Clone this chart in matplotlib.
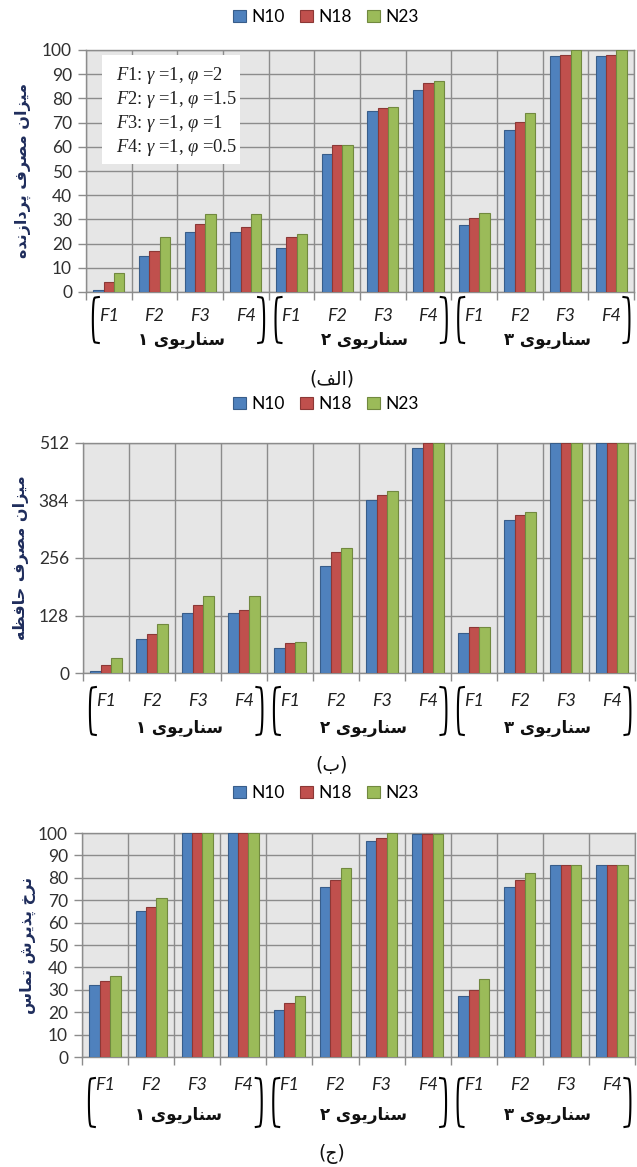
import matplotlib
matplotlib.use('Agg')
import matplotlib.pyplot as plt
import numpy as np
from matplotlib.patches import Patch
from matplotlib.transforms import IdentityTransform

W, H, DPI = 637, 1167, 100

# ---------------- data ----------------
scenarios = ['سناریوی ۱', 'سناریوی ۲', 'سناریوی ۳']
functions = ['F1', 'F2', 'F3', 'F4']
series_names = ['N10', 'N18', 'N23']

cpu_n10 = [1, 15, 25, 25, 18, 57, 75, 83.3, 27.6, 66.8, 97.4, 97.4]
cpu_n18 = [4, 17, 28, 26.7, 22.9, 60.7, 76, 86.3, 30.6, 70.2, 98, 98]
cpu_n23 = [7.7, 22.6, 32.2, 32.2, 24.1, 60.7, 76.4, 87, 32.8, 73.9, 100, 100]

mem_n10 = [4.5, 75, 133, 133, 56, 238, 385, 501, 90, 341, 512, 512]
mem_n18 = [17, 87.5, 151.5, 141, 67.5, 268.5, 396, 512, 101.5, 351, 512, 512]
mem_n23 = [33.5, 110, 172, 172, 69.5, 279, 406, 512, 103, 359, 512, 512]

acc_n10 = [32.3, 65, 100, 100, 21.1, 76, 96.3, 99.6, 27.1, 76, 85.6, 85.6]
acc_n18 = [33.9, 67, 100, 100, 24.1, 79, 97.9, 99.6, 30.1, 79, 85.6, 85.6]
acc_n23 = [36.2, 71, 100, 100, 27.1, 84.2, 100, 99.6, 34.7, 82.1, 85.6, 85.6]

ylabels = ['میزان مصرف پردازنده', 'میزان مصرف حافظه', 'نرخ پذیرش تماس']
captions = ['(الف)', '(ب)', '(ج)']
formula_lines = [('F1', '2'), ('F2', '1.5'), ('F3', '1'), ('F4', '0.5')]

# ---------------- simple Arabic/Persian shaping ----------------
FORMS = {
    'ا': (0xFE8D, 0xFE8E, None, None),
    'ب': (0xFE8F, 0xFE90, 0xFE91, 0xFE92),
    'پ': (0xFB56, 0xFB57, 0xFB58, 0xFB59),
    'ت': (0xFE95, 0xFE96, 0xFE97, 0xFE98),
    'ج': (0xFE9D, 0xFE9E, 0xFE9F, 0xFEA0),
    'ح': (0xFEA1, 0xFEA2, 0xFEA3, 0xFEA4),
    'خ': (0xFEA5, 0xFEA6, 0xFEA7, 0xFEA8),
    'د': (0xFEA9, 0xFEAA, None, None),
    'ذ': (0xFEAB, 0xFEAC, None, None),
    'ر': (0xFEAD, 0xFEAE, None, None),
    'ز': (0xFEAF, 0xFEB0, None, None),
    'س': (0xFEB1, 0xFEB2, 0xFEB3, 0xFEB4),
    'ش': (0xFEB5, 0xFEB6, 0xFEB7, 0xFEB8),
    'ص': (0xFEB9, 0xFEBA, 0xFEBB, 0xFEBC),
    'ظ': (0xFEC5, 0xFEC6, 0xFEC7, 0xFEC8),
    'ف': (0xFED1, 0xFED2, 0xFED3, 0xFED4),
    'ل': (0xFEDD, 0xFEDE, 0xFEDF, 0xFEE0),
    'م': (0xFEE1, 0xFEE2, 0xFEE3, 0xFEE4),
    'ن': (0xFEE5, 0xFEE6, 0xFEE7, 0xFEE8),
    'ه': (0xFEE9, 0xFEEA, 0xFEEB, 0xFEEC),
    'و': (0xFEED, 0xFEEE, None, None),
    'ی': (0xFBFC, 0xFBFD, 0xFBFE, 0xFBFF),
}


def shape(text):
    out = []
    n = len(text)
    for i, c in enumerate(text):
        if c not in FORMS:
            out.append(c)
            continue
        prev = text[i - 1] if i > 0 else ''
        nxt = text[i + 1] if i + 1 < n else ''
        jp = prev in FORMS and FORMS[prev][2] is not None
        jn = FORMS[c][2] is not None and nxt in FORMS
        iso, fin, ini, med = FORMS[c]
        if jp and jn:
            cp = med
        elif jp:
            cp = fin
        elif jn:
            cp = ini
        else:
            cp = iso
        out.append(chr(cp))
    vis = ''.join(reversed(out))
    return vis.translate(str.maketrans('()', ')('))


# ---------------- style ----------------
plt.rcParams['font.family'] = ['Lato', 'DejaVu Sans']
plt.rcParams['mathtext.fontset'] = 'custom'
plt.rcParams['mathtext.rm'] = 'Liberation Serif'
plt.rcParams['mathtext.it'] = 'Liberation Serif:italic'

colors = ['#4F81BD', '#C0504D', '#9BBB59']
edges = ['#385D8A', '#8C3836', '#71893F']
grid_c = '#8C8C8C'
bg = '#E6E6E6'
ylab_c = '#1F2D5C'

panels = [
    dict(vals=[cpu_n10, cpu_n18, cpu_n23], box=(86, 634, 50, 292), ylim=100,
         yticks=list(range(0, 101, 10)), legend_y=17, ylab_x=23,
         f_dy=24, sc_dy=48, br=(5, 51), cap_dy=87),
    dict(vals=[mem_n10, mem_n18, mem_n23], box=(83, 635, 443, 673), ylim=512,
         yticks=[0, 128, 256, 384, 512], legend_y=404, ylab_x=21,
         f_dy=28, sc_dy=55, br=(14, 62), cap_dy=93),
    dict(vals=[acc_n10, acc_n18, acc_n23], box=(82, 635, 833, 1057), ylim=100,
         yticks=list(range(0, 101, 10)), legend_y=793, ylab_x=28,
         f_dy=28, sc_dy=58, br=(21, 70), cap_dy=97),
]

fig = plt.figure(figsize=(W / DPI, H / DPI), dpi=DPI)
fig.patch.set_facecolor('white')

ncat = len(scenarios) * len(functions)
xc = np.arange(ncat) + 0.5
bw = 0.225
offs = [-bw, 0, bw]


def fy(ypix):
    return 1 - ypix / H


def bracket(x0, ytop, ybot, w, side):
    t = np.linspace(0, 1, 80)
    s = np.sin(np.pi * t) ** 0.12
    y = ytop - t * (ytop - ybot)
    if side == 'left':
        x = x0 + w * (1 - s)
    else:
        x = x0 - w * (1 - s)
    fig.add_artist(plt.Line2D(x, H - y, transform=IdentityTransform(),
                              color='black', lw=1.5))


for k, p in enumerate(panels):
    l, r, t, b = p['box']
    ax = fig.add_axes([l / W, 1 - b / H, (r - l) / W, (b - t) / H])
    ax.set_facecolor(bg)
    for j in range(3):
        ax.bar(xc + offs[j], p['vals'][j], width=bw, color=colors[j],
               edgecolor=edges[j], linewidth=0.8, zorder=3)
    ax.set_xlim(0, ncat)
    ax.set_ylim(0, p['ylim'])
    ax.set_yticks(p['yticks'])
    ax.set_yticklabels([str(v) for v in p['yticks']], fontsize=12.5, color='#303030')
    ax.set_xticks(np.arange(ncat + 1))
    ax.set_xticklabels([])
    ax.grid(True, color=grid_c, lw=1.0, zorder=0)
    ax.set_axisbelow(True)
    ax.tick_params(axis='both', length=6, color=grid_c, width=1.0)
    ax.tick_params(axis='y', pad=4)
    for sp in ax.spines.values():
        sp.set_color(grid_c)
        sp.set_linewidth(1.0)

    # legend
    handles = [Patch(facecolor=colors[j], edgecolor=edges[j], lw=0.8) for j in range(3)]
    fig.legend(handles, series_names, loc='center', bbox_to_anchor=(326 / W, fy(p['legend_y'])),
               ncol=3, frameon=False, fontsize=12.5, handlelength=0.75, handleheight=0.75,
               handletextpad=0.3, columnspacing=0.9)

    # y label
    fig.text(p['ylab_x'] / W, fy((t + b) / 2), shape(ylabels[k]), rotation=90,
             ha='center', va='center', fontsize=11.5, color=ylab_c,
             family='DejaVu Sans', weight='bold')

    # x category labels
    def xpix(xd):
        return ax.transData.transform((xd, 0))[0]

    for i in range(ncat):
        fig.text(xpix(xc[i]) / W, fy(b + p['f_dy']), functions[i % 4], ha='center',
                 va='center', fontsize=13, style='italic', color='#202020')
    for g in range(len(scenarios)):
        gc = g * 4 + 2.1
        fig.text(xpix(gc) / W, fy(b + p['sc_dy']), shape(scenarios[g]), ha='center',
                 va='center', fontsize=12, family='DejaVu Sans', weight='bold',
                 color='#101010')
        y0, y1 = b + p['br'][0], b + p['br'][1]
        bracket(xpix(g * 4 + 0.15), y0, y1, 6, 'left')
        bracket(xpix(g * 4 + 3.9), y0, y1, 6, 'right')

    fig.text(332 / W, fy(b + p['cap_dy']), shape(captions[k]), ha='center', va='center',
             fontsize=13.5, family='DejaVu Sans', color='#101010')

    if k == 0:
        # formula box
        bx0, bx1, by0, by1 = 102, 240, 55, 164
        fig.add_artist(plt.Rectangle((bx0 / W, fy(by1)), (bx1 - bx0) / W, (by1 - by0) / H,
                                     transform=fig.transFigure, facecolor='white',
                                     edgecolor='none', zorder=5))
        ys = [75, 99.3, 123.3, 147.7]
        for (fn, phi), yy in zip(formula_lines, ys):
            txt = r'$\mathit{%s}$: $\gamma$ =1, $\varphi$ =%s' % (fn, phi)
            fig.text(116 / W, fy(yy), txt, ha='left', va='center', fontsize=13.3,
                     family='Liberation Serif', color='#202020', zorder=6)

fig.savefig('out.png', dpi=DPI, facecolor='white')
